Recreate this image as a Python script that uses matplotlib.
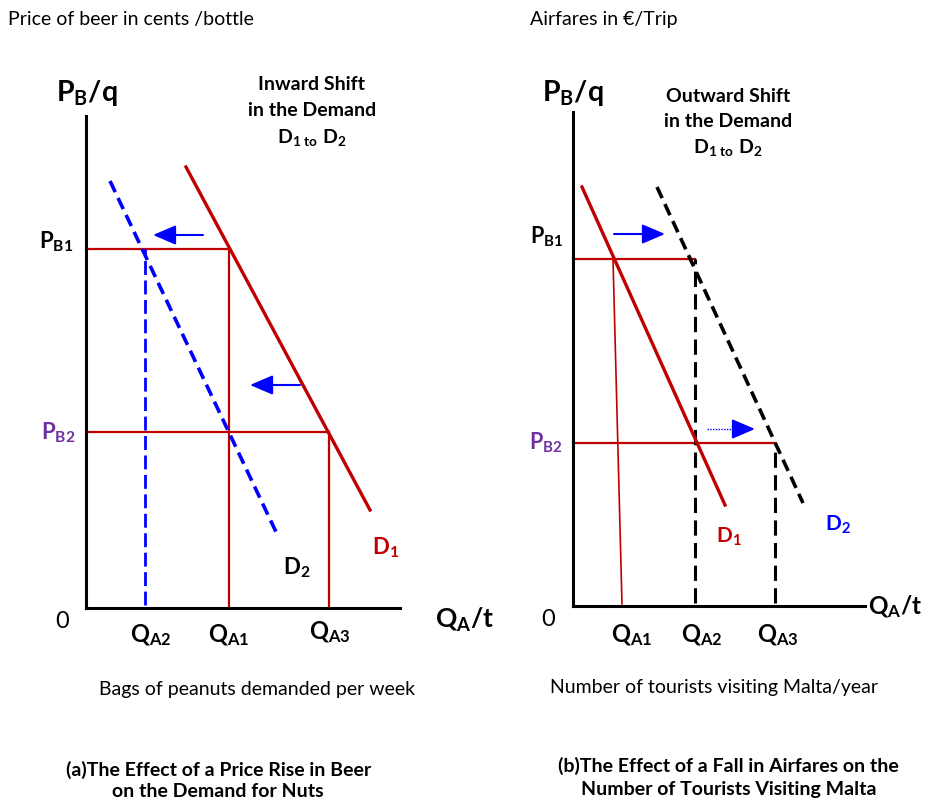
import matplotlib
matplotlib.use("Agg")
from matplotlib import pyplot as plt

plt.rcParams['font.family'] = ['Lato', 'DejaVu Sans']
plt.rcParams['mathtext.fontset'] = 'custom'
plt.rcParams['mathtext.rm'] = 'Lato'
plt.rcParams['mathtext.bf'] = 'Lato:bold'
plt.rcParams['mathtext.it'] = 'Lato:italic'

RED = '#C00000'
BLUE = '#0000FF'
PURPLE = '#7030A0'

# ---- panel (a): beer price rise -> demand for nuts shifts in ----
a_d1_q = [10.0, 28.4]
a_d1_p = [44.1, 9.8]
a_d2_q = [2.4, 19.1]
a_d2_p = [42.7, 7.4]
a_pb1, a_pb2 = 35.9, 17.6
a_qa1, a_qa2, a_qa3 = 14.3, 5.9, 24.3
a_arrows = [(11.7, 6.7, 37.3), (21.4, 16.4, 22.3)]  # from q, to q, at p

# ---- panel (b): fall in airfares -> tourists demand shifts out ----
b_d1_q = [0.9, 15.2]
b_d1_p = [41.9, 10.1]
b_d2_q = [8.4, 23.0]
b_d2_p = [41.9, 10.3]
b_pb1, b_pb2 = 34.7, 16.3
b_qa1_top, b_qa1_bot = 4.0, 4.9
b_qa2, b_qa3 = 12.2, 20.2
b_arrows = [(4.1, 9.2, 37.2), (13.4, 18.2, 17.7)]

W, H = 926, 803
fig = plt.figure(figsize=(W / 100, H / 100), dpi=100)


def px_axes(x0, x1, ytop, ybot):
    return fig.add_axes([x0 / W, 1 - ybot / H, (x1 - x0) / W, (ybot - ytop) / H])


def ftext(x, y, s, **kw):
    fig.text(x / W, 1 - y / H, s, **kw)


def setup(ax, xmax, ymax):
    ax.set_xlim(0, xmax)
    ax.set_ylim(0, ymax)
    ax.patch.set_alpha(0)
    for s in ['top', 'right']:
        ax.spines[s].set_visible(False)
    for s in ['left', 'bottom']:
        ax.spines[s].set_linewidth(2.2)
        ax.spines[s].set_color('black')
    ax.set_xticks([])
    ax.set_yticks([])


def arrow(ax, x0, x1, y, dotted=False):
    style = '-|>,head_length=0.7,head_width=0.3'
    if dotted:
        # thin dotted shaft, solid head
        ax.plot([x0, x1 - 1.0], [y, y], color=BLUE, lw=1.0, ls=(0, (1, 1)), clip_on=False)
        x0 = x1 - 1.2
    ax.annotate('', xy=(x1, y), xytext=(x0, y), annotation_clip=False,
                arrowprops=dict(arrowstyle=style, color=BLUE, lw=1.5,
                                mutation_scale=20, shrinkA=0, shrinkB=0))


# panel (a)
ax = px_axes(86, 400, 117, 609)
setup(ax, 31.4, 49.2)
ax.plot([0, a_qa1], [a_pb1, a_pb1], color=RED, lw=1.6, clip_on=False)
ax.plot([0, a_qa3], [a_pb2, a_pb2], color=RED, lw=1.6, clip_on=False)
ax.plot([a_qa1, a_qa1], [0, a_pb1], color=RED, lw=1.6, clip_on=False)
ax.plot([a_qa3, a_qa3], [0, a_pb2], color=RED, lw=1.6, clip_on=False)
ax.plot([a_qa2, a_qa2], [0.3, a_pb1], color=BLUE, lw=2.0, ls=(0, (5, 2)), clip_on=False)
ax.plot(a_d1_q, a_d1_p, color=RED, lw=2.4, clip_on=False)
ax.plot(a_d2_q, a_d2_p, color=BLUE, lw=2.6, ls=(0, (3.4, 1.8)), clip_on=False)
for x0, x1, y in a_arrows:
    arrow(ax, x0, x1, y)

kw = dict(clip_on=False, ha='center', va='center')
ax.text(0.1, 51.6, r'$\mathbf{P_B/q}$', fontsize=20.5, **kw)
ax.text(-1.3, a_pb1 + 0.8, r'$\mathbf{P_{B1}}$', fontsize=16, clip_on=False, ha='right', va='center')
ax.text(-1.0, a_pb2, r'$\mathbf{P_{B2}}$', fontsize=16, color=PURPLE, clip_on=False, ha='right', va='center')
ax.text(-2.4, -1.3, '0', fontsize=17, **kw)
ax.text(a_qa2 + 0.6, -2.6, r'$\mathbf{Q_{A2}}$', fontsize=17, **kw)
ax.text(a_qa1, -2.6, r'$\mathbf{Q_{A1}}$', fontsize=17, **kw)
ax.text(a_qa3 + 0.1, -2.3, r'$\mathbf{Q_{A3}}$', fontsize=17, **kw)
ax.text(34.9, -1.1, r'$\mathbf{Q_A/t}$', fontsize=19, clip_on=False, ha='left', va='center')
ax.text(30.0, 6.1, r'$\mathbf{D_1}$', fontsize=16, color=RED, **kw)
ax.text(21.1, 4.1, r'$\mathbf{D_2}$', fontsize=16, color='black', **kw)

# panel (b)
bx = px_axes(573, 865, 113, 607)
setup(bx, 29.2, 49.4)
bx.plot([0, b_qa2], [b_pb1, b_pb1], color=RED, lw=1.6, clip_on=False)
bx.plot([0, b_qa3], [b_pb2, b_pb2], color=RED, lw=1.6, clip_on=False)
bx.plot([b_qa1_top, b_qa1_bot], [b_pb1, 0.2], color=RED, lw=1.2, clip_on=False)
bx.plot([b_qa2, b_qa2], [0.3, b_pb1], color='black', lw=2.2, ls=(0, (5, 2.4)), clip_on=False)
bx.plot([b_qa3, b_qa3], [0.3, b_pb2], color='black', lw=2.2, ls=(0, (5, 2.4)), clip_on=False)
bx.plot(b_d1_q, b_d1_p, color=RED, lw=2.4, clip_on=False)
bx.plot(b_d2_q, b_d2_p, color='black', lw=2.6, ls=(0, (3.4, 1.8)), clip_on=False)
arrow(bx, *b_arrows[0])
arrow(bx, *b_arrows[1], dotted=True)

bx.text(0.0, 51.4, r'$\mathbf{P_B/q}$', fontsize=20.5, **kw)
bx.text(-1.0, b_pb1 + 2.3, r'$\mathbf{P_{B1}}$', fontsize=15.5, clip_on=False, ha='right', va='center')
bx.text(-1.0, b_pb2 + 0.1, r'$\mathbf{P_{B2}}$', fontsize=15.5, color=PURPLE, clip_on=False, ha='right', va='center')
bx.text(-2.5, -1.2, '0', fontsize=17, **kw)
bx.text(5.9, -2.8, r'$\mathbf{Q_{A1}}$', fontsize=17, **kw)
bx.text(12.9, -2.8, r'$\mathbf{Q_{A2}}$', fontsize=17, **kw)
bx.text(20.5, -2.8, r'$\mathbf{Q_{A3}}$', fontsize=17, **kw)
bx.text(29.5, 0.0, r'$\mathbf{Q_A/t}$', fontsize=17.5, clip_on=False, ha='left', va='center')
bx.text(15.6, 7.0, r'$\mathbf{D_1}$', fontsize=15, color=RED, **kw)
bx.text(26.5, 8.2, r'$\mathbf{D_2}$', fontsize=15, color=BLUE, **kw)

# annotations and captions
fs = 14
ftext(312, 85, 'Inward Shift', fontsize=fs, fontweight='bold', ha='center', va='center')
ftext(312, 110, 'in the Demand', fontsize=fs, fontweight='bold', ha='center', va='center')
ftext(312, 137, r'$\mathbf{D_{1\ to}\ D_2}$', fontsize=fs, ha='center', va='center')
ftext(728, 97, 'Outward Shift', fontsize=fs, fontweight='bold', ha='center', va='center')
ftext(728, 122, 'in the Demand', fontsize=fs, fontweight='bold', ha='center', va='center')
ftext(728, 148, r'$\mathbf{D_{1\ to}\ D_2}$', fontsize=fs, ha='center', va='center')

ftext(8, 20, 'Price of beer in cents /bottle', fontsize=fs, ha='left', va='center')
ftext(530, 20, 'Airfares in €/Trip', fontsize=fs, ha='left', va='center')
ftext(257, 690, 'Bags of peanuts demanded per week', fontsize=fs, ha='center', va='center')
ftext(714, 688, 'Number of tourists visiting Malta/year', fontsize=fs, ha='center', va='center')

ftext(219, 770, '(a)The Effect of a Price Rise in Beer', fontsize=fs, fontweight='bold', ha='center', va='center')
ftext(218, 792, 'on the Demand for Nuts', fontsize=fs, fontweight='bold', ha='center', va='center')
ftext(728, 766, '(b)The Effect of a Fall in Airfares on the', fontsize=fs, fontweight='bold', ha='center', va='center')
ftext(729, 790, 'Number of Tourists Visiting Malta', fontsize=fs, fontweight='bold', ha='center', va='center')

fig.savefig('out.png', dpi=100)
